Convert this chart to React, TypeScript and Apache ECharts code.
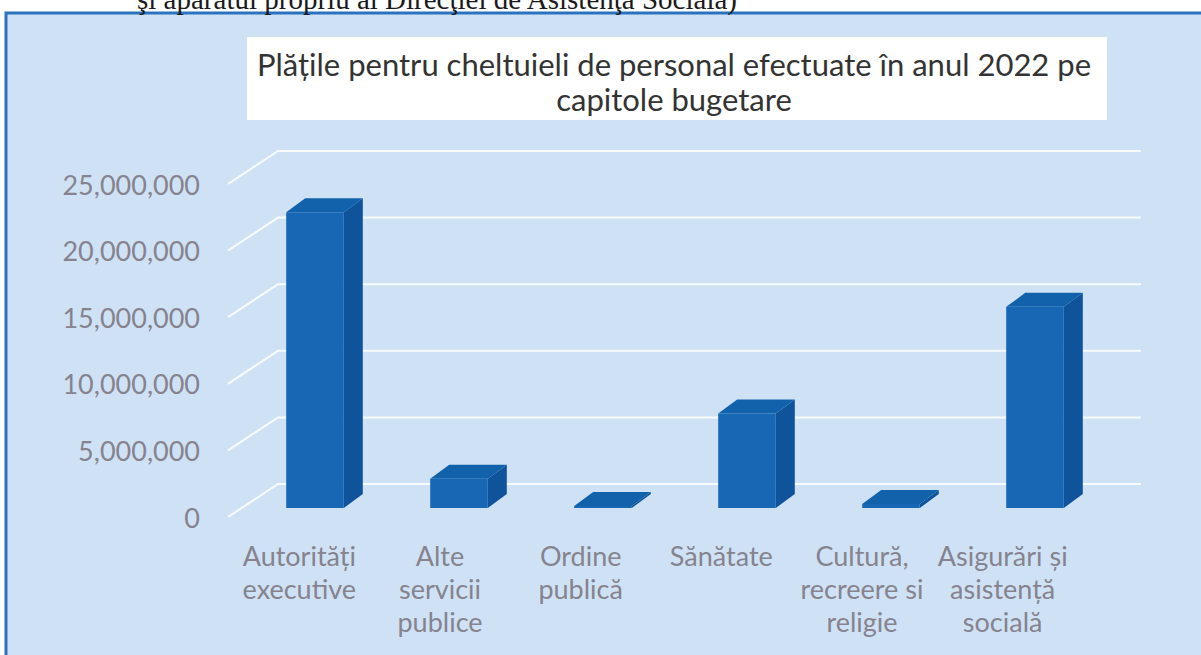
import React, { useEffect, useRef } from "react";
import * as echarts from "echarts";

const headerText = "şi aparatul propriu al Direcţiei de Asistenţa Sociala)";
const titleLines = [
  "Plățile pentru cheltuieli de personal efectuate în anul 2022 pe",
  "capitole bugetare",
];
const categories = [
  "Autorități\nexecutive",
  "Alte\nservicii\npublice",
  "Ordine\npublică",
  "Sănătate",
  "Cultură,\nrecreere si\nreligie",
  "Asigurări și\nasistență\nsocială",
];
const values = [22200000, 2200000, 150000, 7100000, 300000, 15100000];
const yTicks = [0, 5000000, 10000000, 15000000, 20000000, 25000000];

const FONT = "Lato";
const LABEL_COLOR = "#86838f";
const FRONT = "#1767b5";
const SIDE = "#0f539b";
const TOP = "#1261ab";

export default function App() {
  const ref = useRef<HTMLDivElement>(null);
  useEffect(() => {
    if (!ref.current) return;
    const chart = echarts.init(ref.current, null, { renderer: "svg" });
    const DX = 19;
    const DY = -14;
    const FRONT_SHIFT = -9;
    chart.setOption({
      animation: false,
      backgroundColor: "#ffffff",
      textStyle: { fontFamily: FONT },
      graphic: [
        {
          type: "rect",
          z: -10,
          shape: { x: 6, y: 13, width: 1200, height: 650 },
          style: { fill: "#cfe2f5", stroke: "#2a72bd", lineWidth: 3 },
        },
        {
          type: "text",
          z: -5,
          x: 437,
          y: -1,
          style: {
            text: headerText,
            font: "29px 'Liberation Serif'",
            fill: "#1a1a1a",
            align: "center",
            verticalAlign: "middle",
          },
        },
        {
          type: "rect",
          z: -5,
          shape: { x: 247, y: 37, width: 860, height: 83 },
          style: { fill: "#ffffff" },
        },
        {
          type: "text",
          z: -4,
          x: 674,
          y: 81,
          style: {
            text: titleLines.join("\n"),
            font: `31px ${FONT}`,
            lineHeight: 35,
            fill: "#333333",
            align: "center",
            verticalAlign: "middle",
          },
        },
      ],
      grid: [
        { left: 229, width: 844, top: 184, height: 333 },
        { left: 243, width: 864, top: 184, height: 333 },
      ],
      xAxis: [
        {
          gridIndex: 0,
          type: "category",
          data: categories,
          axisLine: { show: false },
          axisTick: { show: false },
          splitLine: { show: false },
          axisLabel: {
            interval: 0,
            margin: 22,
            fontSize: 27,
            lineHeight: 33,
            color: LABEL_COLOR,
            fontFamily: FONT,
          },
        },
        { gridIndex: 1, type: "category", data: categories, show: false },
      ],
      yAxis: [
        {
          gridIndex: 0,
          type: "value",
          min: 0,
          max: 25000000,
          interval: 5000000,
          axisLine: { show: false },
          axisTick: { show: false },
          splitLine: { show: false },
          axisLabel: {
            margin: 29,
            fontSize: 27,
            color: LABEL_COLOR,
            fontFamily: FONT,
            formatter: (v: number) => v.toLocaleString("en-US"),
          },
        },
        {
          gridIndex: 1,
          type: "value",
          min: 0,
          max: 25000000,
          interval: 5000000,
          show: false,
        },
      ],
      series: [
        {
          type: "custom",
          xAxisIndex: 0,
          yAxisIndex: 0,
          clip: false,
          silent: true,
          z: 1,
          data: yTicks.map((v) => [0, v]),
          renderItem: (params: any, api: any) => {
            const cs = params.coordSys;
            const y = api.coord([0, api.value(1)])[1];
            const x0 = cs.x - 1;
            return {
              type: "polyline",
              shape: {
                points: [
                  [x0, y],
                  [x0 + 50, y - 33],
                  [cs.x + cs.width + 68, y - 33],
                ],
              },
              style: { stroke: "rgba(255,255,255,0.85)", lineWidth: 2, fill: null },
            };
          },
        },
        {
          type: "custom",
          xAxisIndex: 1,
          yAxisIndex: 1,
          clip: false,
          z: 2,
          data: values.map((v, i) => [i, v]),
          renderItem: (params: any, api: any) => {
            const i = api.value(0);
            const v = api.value(1);
            const t = api.coord([i, v]);
            const b = api.coord([i, 0]);
            const w = api.size([1, 0])[0] * 0.4;
            const xl = t[0] - w / 2;
            const xr = t[0] + w / 2;
            const yt = t[1] + FRONT_SHIFT;
            const yb = b[1] + FRONT_SHIFT;
            return {
              type: "group",
              children: [
                {
                  type: "polygon",
                  shape: {
                    points: [
                      [xr, yb],
                      [xr, yt],
                      [xr + DX, yt + DY],
                      [xr + DX, yb + DY],
                    ],
                  },
                  style: { fill: SIDE },
                },
                {
                  type: "polygon",
                  shape: {
                    points: [
                      [xl, yt],
                      [xr, yt],
                      [xr + DX, yt + DY],
                      [xl + DX, yt + DY],
                    ],
                  },
                  style: { fill: TOP },
                },
                {
                  type: "rect",
                  shape: { x: xl, y: yt, width: w, height: Math.max(yb - yt, 1) },
                  style: { fill: FRONT },
                },
              ],
            };
          },
        },
      ],
    });
    return () => chart.dispose();
  }, []);
  return (
    <div
      ref={ref}
      style={{ position: "fixed", left: 0, top: 0, width: 1201, height: 655 }}
    />
  );
}
